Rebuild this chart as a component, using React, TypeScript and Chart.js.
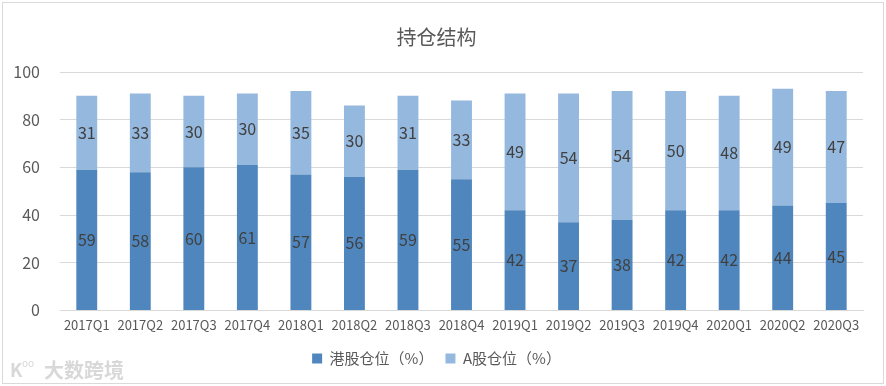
import React, { useEffect, useRef } from "react";
import { Chart, registerables } from "chart.js";

Chart.register(...registerables);

const categories = ["2017Q1","2017Q2","2017Q3","2017Q4","2018Q1","2018Q2","2018Q3","2018Q4","2019Q1","2019Q2","2019Q3","2019Q4","2020Q1","2020Q2","2020Q3"];
const hkValues = [59,58,60,61,57,56,59,55,42,37,38,42,42,44,45];
const aValues = [31,33,30,30,35,30,31,33,49,54,54,50,48,49,47];
const yTicks = [0,20,40,60,80,100];

const FONT = "'Noto Sans CJK SC', 'Microsoft YaHei', sans-serif";

const labelPlugin = {
  id: "segLabels",
  afterDatasetsDraw(chart: any) {
    const ctx = chart.ctx;
    ctx.save();
    ctx.font = `16px ${FONT}`;
    ctx.fillStyle = "#404040";
    ctx.textAlign = "center";
    ctx.textBaseline = "middle";
    chart.data.datasets.forEach((ds: any, di: number) => {
      const meta = chart.getDatasetMeta(di);
      meta.data.forEach((el: any, i: number) => {
        const p = el.getCenterPoint();
        ctx.fillText(String(ds.data[i]), p.x, p.y);
      });
    });
    ctx.restore();
  },
};

const framePlugin = {
  id: "frame",
  afterDraw(chart: any) {
    const ctx = chart.ctx;
    ctx.save();
    ctx.strokeStyle = "#d9d9d9";
    ctx.lineWidth = 1;
    ctx.strokeRect(2.5, 2.5, chart.width - 5, chart.height - 5);
    ctx.font = `bold 20px ${FONT}`;
    ctx.fillStyle = "rgba(200,200,200,0.7)";
    ctx.textBaseline = "middle";
    ctx.textAlign = "left";
    ctx.fillText("大数跨境", 44, 370);
    ctx.font = `bold 18px ${FONT}`;
    ctx.fillText("K", 10, 370);
    ctx.font = `10px ${FONT}`;
    ctx.fillText("oo", 22, 363);
    ctx.restore();
  },
};

export default function App() {
  const ref = useRef<HTMLCanvasElement>(null);
  useEffect(() => {
    if (!ref.current) return;
    const chart = new Chart(ref.current, {
      type: "bar",
      data: {
        labels: categories,
        datasets: [
          { label: "港股仓位（%）", data: hkValues, backgroundColor: "#4f86bd", categoryPercentage: 1, barPercentage: 0.39 },
          { label: "A股仓位（%）", data: aValues, backgroundColor: "#95b8de", categoryPercentage: 1, barPercentage: 0.39 },
        ],
      },
      options: {
        animation: false,
        responsive: false,
        layout: { padding: { left: 10, right: 23, top: 0, bottom: 10 } },
        plugins: {
          title: {
            display: true,
            text: "持仓结构",
            color: "#595959",
            font: { family: FONT, size: 20, weight: "normal" },
            padding: { top: 25, bottom: 23 },
          },
          legend: {
            position: "bottom",
            labels: {
              color: "#595959",
              font: { family: FONT, size: 15 },
              boxWidth: 10,
              boxHeight: 10,
              padding: 12,
            },
          },
          tooltip: { enabled: false },
        },
        scales: {
          x: {
            stacked: true,
            grid: { display: false, drawTicks: false },
            border: { display: true, color: "#d9d9d9" },
            ticks: { color: "#595959", font: { family: FONT, size: 13 }, padding: 7, maxRotation: 0, autoSkip: false },
            afterFit(axis: any) {
              axis.height = axis.height - 1;
            },
          },
          y: {
            stacked: true,
            min: 0,
            max: 100,
            afterBuildTicks(axis: any) {
              axis.ticks = yTicks.map((v) => ({ value: v }));
            },
            afterFit(axis: any) {
              axis.width = 50;
            },
            grid: { color: "#d9d9d9", drawTicks: false },
            border: { display: false },
            ticks: { color: "#595959", font: { family: FONT, size: 16 }, padding: 20 },
          },
        },
      },
      plugins: [labelPlugin, framePlugin],
    });
    return () => chart.destroy();
  }, []);
  return (
    <div style={{ position: "fixed", left: 0, top: 0, width: 886, height: 386, background: "#fff" }}>
      <canvas ref={ref} width={886} height={386} style={{ display: "block" }} />
    </div>
  );
}
